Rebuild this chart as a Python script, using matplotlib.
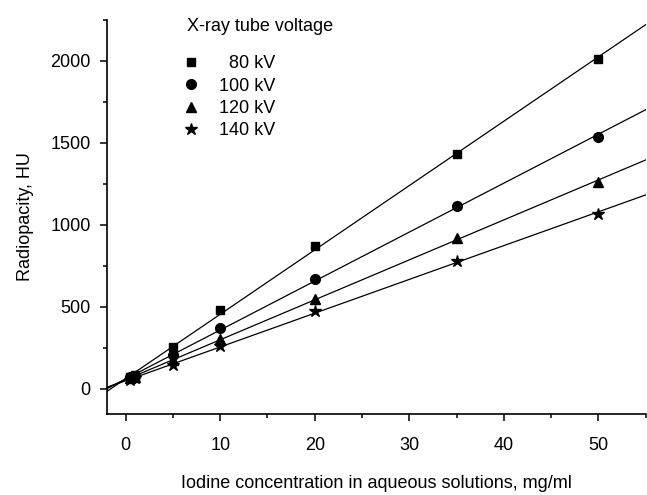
import numpy as np
import matplotlib
matplotlib.use("Agg")
import matplotlib.pyplot as plt
from matplotlib.ticker import MultipleLocator

plt.rcParams['font.family'] = ['Liberation Sans', 'DejaVu Sans']

conc = [0.5, 1, 5, 10, 20, 35, 50]
hu_80 = [70, 80, 254, 477, 868, 1433, 2010]
hu_100 = [68, 75, 203, 370, 671, 1116, 1534]
hu_120 = [63, 70, 173, 305, 549, 918, 1260]
hu_140 = [55, 62, 146, 258, 473, 776, 1067]
labels = ["  80 kV", "100 kV", "120 kV", "140 kV"]
markers = ['s', 'o', '^', '*']
msizes = [6, 7, 7, 9]
series = [hu_80, hu_100, hu_120, hu_140]

fig = plt.figure(figsize=(6.47, 4.95), dpi=100)
ax = fig.add_axes([0.165, 0.1636, 0.833, 0.797])

xfit = np.array([-2, 55])
handles = []
for vals, m, ms, lab in zip(series, markers, msizes, labels):
    k, b = np.polyfit(conc, vals, 1)
    ax.plot(xfit, k * xfit + b, color='black', lw=0.9, zorder=2)
    h, = ax.plot(conc, vals, linestyle='none', marker=m, ms=ms, color='black',
                 label=lab, zorder=3)
    handles.append(h)

ax.set_xlim(-2, 55)
ax.set_ylim(-155, 2250)
for s in ['top', 'right']:
    ax.spines[s].set_visible(False)
for s in ['left', 'bottom']:
    ax.spines[s].set_linewidth(1.2)

ax.xaxis.set_major_locator(MultipleLocator(10))
ax.xaxis.set_minor_locator(MultipleLocator(5))
ax.yaxis.set_major_locator(MultipleLocator(500))
ax.yaxis.set_minor_locator(MultipleLocator(250))
ax.tick_params(axis='both', which='major', length=5, width=1.1, labelsize=13, colors='black')
ax.tick_params(axis='both', which='minor', length=3, width=1.1)
ax.tick_params(axis='x', which='major', pad=11.5)
ax.tick_params(axis='y', which='major', pad=6.5)

ax.set_xlabel("Iodine concentration in aqueous solutions, mg/ml", fontsize=13, labelpad=15)
ax.set_ylabel("Radiopacity, HU", fontsize=13, labelpad=12)

ax.text(0.148, 0.983, "X-ray tube voltage", transform=ax.transAxes, fontsize=13,
        ha='left', va='center')
leg = ax.legend(handles=handles, loc='upper left', bbox_to_anchor=(0.1224, 0.909),
                frameon=False, fontsize=13, borderpad=0, borderaxespad=0,
                handlelength=2.0, handletextpad=0.57, labelspacing=0.29)

fig.savefig("out.png", dpi=100)
